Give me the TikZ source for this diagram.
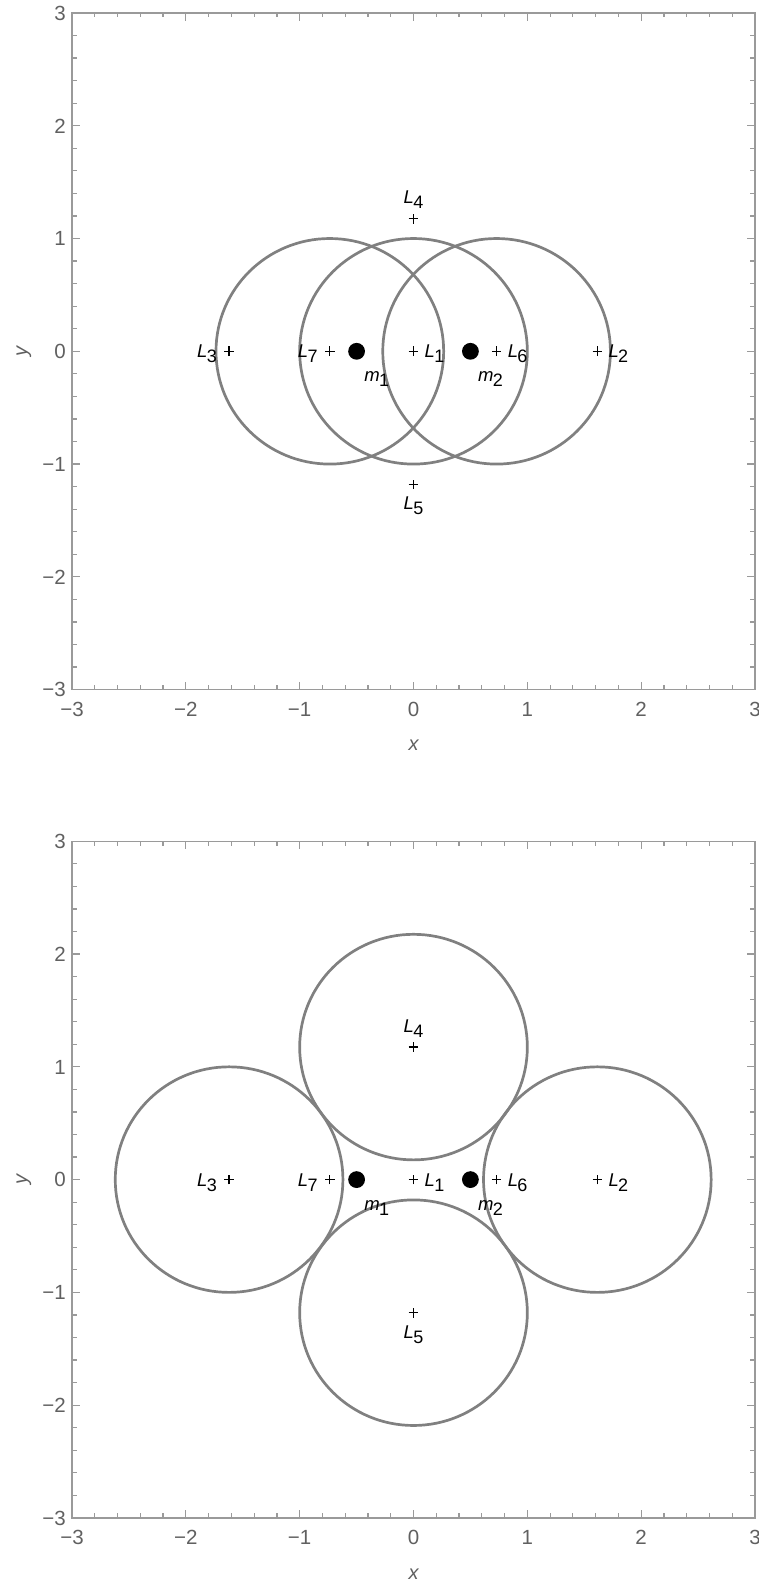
\documentclass[tikz,border=0pt]{standalone}
\usepackage{fontspec}
\setmainfont{Liberation Sans}
\usetikzlibrary{shapes.misc}

\definecolor{framegray}{HTML}{9A9A9A}
\definecolor{labgray}{HTML}{606060}
\definecolor{circgray}{HTML}{808080}

\newcommand{\sublab}[2]{\textit{#1}\kern-0.6pt\raisebox{-5pt}{\fontsize{18}{18}\selectfont #2}}

\tikzset{
  plusmark/.style={cross out, draw=black, line width=1.25pt, rotate=45, minimum size=6.8pt, inner sep=0pt, outer sep=0pt},
  mass/.style={circle, fill=black, minimum size=16.8pt, inner sep=0pt},
  lab/.style={inner sep=0pt, font=\fontsize{18.5}{18.5}\selectfont, text=black},
  ticklab/.style={inner sep=0pt, font=\fontsize{20.5}{20.5}\selectfont, text=labgray, text height=14.7pt, text depth=0pt},
  axlab/.style={inner sep=0pt, font=\fontsize{20}{20}\selectfont\itshape, text=labgray},
  orbit/.style={draw=circgray, line width=2.7pt},
  framestyle/.style={draw=framegray, line width=1.2pt},
  tickstyle/.style={draw=framegray, line width=1.2pt}
}

% frame, ticks and tick labels of one plot; #1 = name prefix
\newcommand{\plotframe}[1]{%
  \draw[framestyle] (-3,-3) rectangle (3,3);
  \foreach \i in {-3,...,3}{
    \draw[tickstyle] (\i,-3) -- ++(0pt,8pt);
    \draw[tickstyle] (\i,3) -- ++(0pt,-8pt);
    \draw[tickstyle] (-3,\i) -- ++(8pt,0pt);
    \draw[tickstyle] (3,\i) -- ++(-8pt,0pt);
  }
  \foreach \i in {-3,...,2}{
    \foreach \j in {0.2,0.4,0.6,0.8}{
      \pgfmathsetmacro\v{\i+\j}
      \draw[tickstyle] (\v,-3) -- ++(0pt,4.5pt);
      \draw[tickstyle] (\v,3) -- ++(0pt,-4.5pt);
      \draw[tickstyle] (-3,\v) -- ++(4.5pt,0pt);
      \draw[tickstyle] (3,\v) -- ++(-4.5pt,0pt);
    }
  }
  \foreach \i/\t in {-3/−3,-2/−2,-1/−1,0/0,1/1,2/2,3/3}{
    \node[ticklab, anchor=north, yshift=-12pt] (#1bx\i) at (\i,-3) {\t};
    \node[ticklab, anchor=east, xshift=-6pt] (#1ly\i) at (-3,\i) {\t};
  }
  \node[axlab, yshift=-56pt] (#1xlab) at (0,-3) {x};
  \path (-3,0) ++(-48pt,0pt) node[axlab, rotate=90] (#1ylab) {y};
}

% points, masses and labels; #1 = name prefix
\newcommand{\plotpoints}[1]{%
  \node[plusmark] (#1P1) at (#1L1) {};
  \node[plusmark] (#1P2) at (#1L2) {};
  \node[plusmark] (#1P3) at (#1L3) {};
  \node[plusmark] (#1P4) at (#1L4) {};
  \node[plusmark] (#1P5) at (#1L5) {};
  \node[plusmark] (#1P6) at (#1L6) {};
  \node[plusmark] (#1P7) at (#1L7) {};
  \node[mass] (#1D1) at (#1M1) {};
  \node[mass] (#1D2) at (#1M2) {};
  \node[lab, anchor=base west] (#1T1) at ([xshift=11pt,yshift=-6.5pt]#1P1.center) {\sublab{L}{1}};
  \node[lab, anchor=base west] (#1T2) at ([xshift=11pt,yshift=-6.5pt]#1P2.center) {\sublab{L}{2}};
  \node[lab, anchor=base east] (#1T3) at ([xshift=-12pt,yshift=-6.5pt]#1P3.center) {\sublab{L}{3}};
  \node[lab, anchor=base] (#1T4) at ([yshift=15pt]#1P4.center) {\sublab{L}{4}};
  \node[lab, anchor=base] (#1T5) at ([yshift=-25.5pt]#1P5.center) {\sublab{L}{5}};
  \node[lab, anchor=base west] (#1T6) at ([xshift=11pt,yshift=-6.5pt]#1P6.center) {\sublab{L}{6}};
  \node[lab, anchor=base east] (#1T7) at ([xshift=-12pt,yshift=-6.5pt]#1P7.center) {\sublab{L}{7}};
  \node[lab, anchor=base west] (#1U1) at ([xshift=7.5pt,yshift=-30.5pt]#1D1.center) {\sublab{m}{1}};
  \node[lab, anchor=base west] (#1U2) at ([xshift=7.5pt,yshift=-30.5pt]#1D2.center) {\sublab{m}{2}};
}

\newcommand{\plotcoords}[1]{%
  \coordinate (#1L1) at (0,0);
  \coordinate (#1L2) at (1.615,0);
  \coordinate (#1L3) at (-1.62,0);
  \coordinate (#1L4) at (0,1.175);
  \coordinate (#1L5) at (0,-1.18);
  \coordinate (#1L6) at (0.73,0);
  \coordinate (#1L7) at (-0.735,0);
  \coordinate (#1M1) at (-0.5,0);
  \coordinate (#1M2) at (0.5,0);
}

\begin{document}
\begin{tikzpicture}[x=1pt,y=1pt]
\useasboundingbox (0,0) rectangle (758,-1582);

% ---------- top plot ----------
\begin{scope}[shift={(413.5pt,-351.3pt)}, x=113.83pt, y=112.78pt]
  \plotframe{a}
  \plotcoords{a}
  \draw[orbit] (aL7) circle[radius=1];
  \draw[orbit] (aL1) circle[radius=1];
  \draw[orbit] (aL6) circle[radius=1];
  \plotpoints{a}
\end{scope}

% ---------- bottom plot ----------
\begin{scope}[shift={(413.5pt,-1179.6pt)}, x=113.83pt, y=112.78pt]
  \plotframe{b}
  \plotcoords{b}
  \draw[orbit] (bL2) circle[radius=1];
  \draw[orbit] (bL3) circle[radius=1];
  \draw[orbit] (bL4) circle[radius=1];
  \draw[orbit] (bL5) circle[radius=1];
  \plotpoints{b}
\end{scope}
\end{tikzpicture}
\end{document}
